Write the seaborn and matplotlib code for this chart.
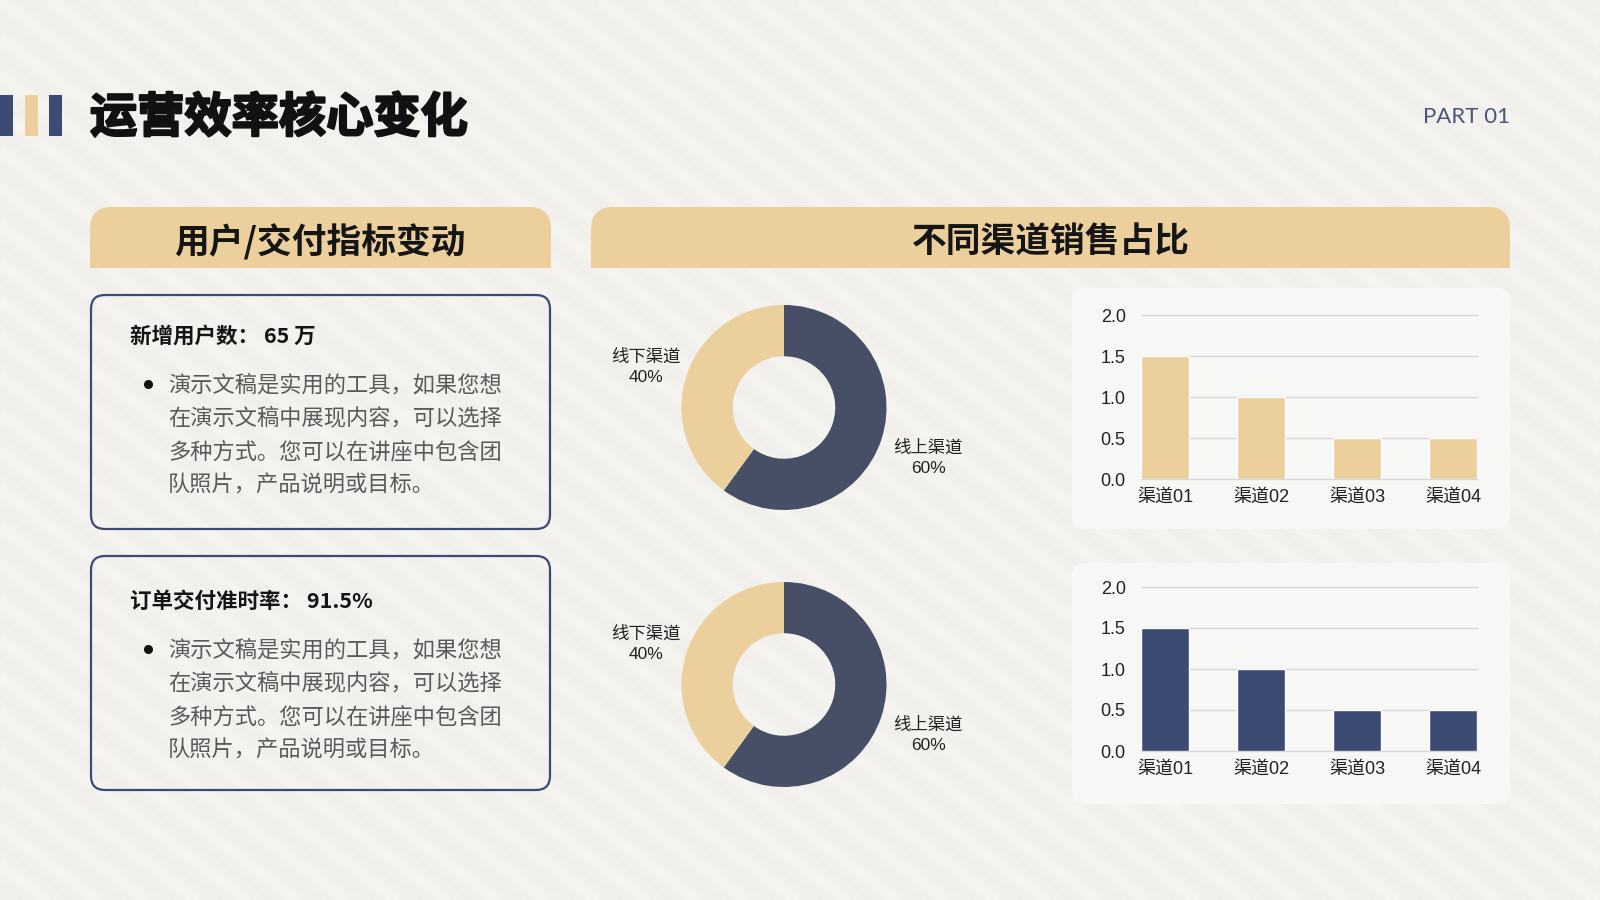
import matplotlib
matplotlib.use('Agg')
import matplotlib.pyplot as plt
import matplotlib.patheffects as pe
from matplotlib.patches import FancyBboxPatch, Rectangle
import seaborn as sns

# ---------------- data ----------------
categories = ['渠道01', '渠道02', '渠道03', '渠道04']
sales_top = [1.5, 1.0, 0.5, 0.5]
sales_bottom = [1.5, 1.0, 0.5, 0.5]
y_ticks = [0.0, 0.5, 1.0, 1.5, 2.0]
channel_labels = ['线上渠道', '线下渠道']
channel_share_top = [60, 40]
channel_share_bottom = [60, 40]

title_text = '运营效率核心变化'
part_label = 'PART 01'
left_header = '用户/交付指标变动'
right_header = '不同渠道销售占比'
metric_titles = ['新增用户数： 65 万', '订单交付准时率： 91.5%']
body_lines = ['演示文稿是实用的工具，如果您想',
              '在演示文稿中展现内容，可以选择',
              '多种方式。您可以在讲座中包含团',
              '队照片，产品说明或目标。']

# ---------------- style ----------------
sns.set_theme(style='white')
CJK = ['Noto Sans CJK SC', 'DejaVu Sans']
LAT = ['Liberation Sans', 'Noto Sans CJK SC']
plt.rcParams['font.family'] = CJK

NAVY = '#3d4a73'
NAVY_D = '#474f66'
BEIGE = '#ebcf9d'
BG = '#f1f0ec'
PANEL = '#f7f7f5'

W, H = 1600, 900
fig = plt.figure(figsize=(16, 9), dpi=100, facecolor=BG)

bg = fig.add_axes([0, 0, 1, 1])
bg.set_xlim(0, W)
bg.set_ylim(H, 0)
bg.axis('off')

# subtle diagonal stripes
for x0 in range(-1300, 1700, 50):
    bg.plot([x0, x0 + 1250], [0, 940], color='white', lw=9, alpha=0.22,
            zorder=0, solid_capstyle='butt')
    bg.plot([x0 + 25, x0 + 25 + 1250], [0, 940], color='#e6e4de', lw=1.0,
            alpha=0.18, zorder=0)

# left decorative bars
for x0, c in [(0, NAVY), (25, BEIGE), (49, NAVY)]:
    bg.add_patch(Rectangle((x0, 95), 12.5, 41, fc=c, ec='none', zorder=2))

bg.text(90, 118, title_text, fontsize=34, weight='black', color='#111111',
        ha='left', va='center', zorder=3,
        path_effects=[pe.withStroke(linewidth=1.6, foreground='#111111')])
bg.text(1510, 117, part_label, fontsize=16, color='#4a5578', ha='right',
        va='center', family=['Lato', 'DejaVu Sans'], zorder=3)

# header tabs
def tab(x, w, text, cx):
    bg.add_patch(FancyBboxPatch((x, 207), w, 61,
                                boxstyle='round,pad=0,rounding_size=22',
                                fc=BEIGE, ec='none', zorder=2))
    bg.add_patch(Rectangle((x, 240), w, 28, fc=BEIGE, ec='none', zorder=2))
    bg.text(cx, 242, text, fontsize=25, weight='bold', color='#151515',
            ha='center', va='center', zorder=3)

tab(90, 461, left_header, 320)
tab(591, 919, right_header, 1051)

# metric boxes
for top, title, toff in zip([295, 556], metric_titles, [41, 45]):
    bg.add_patch(FancyBboxPatch((91, top), 459, 234,
                                boxstyle='round,pad=0,rounding_size=14',
                                fc='none', ec=NAVY, lw=1.6, zorder=2))
    bg.text(130, top + toff, title, fontsize=15.5, weight='bold',
            color='#151515', ha='left', va='center', zorder=3)
    y0 = top + toff + 49
    bg.plot([148], [y0 - 1], 'o', ms=5.5, color='#111111', zorder=3)
    for k, line in enumerate(body_lines):
        bg.text(168, y0 + k * 33.3, line, fontsize=16, weight='light',
                color='#5a5a5a', ha='left', va='center', zorder=3)

# bar panels
for top in [288, 563]:
    bg.add_patch(FancyBboxPatch((1072, top), 438, 241,
                                boxstyle='round,pad=0,rounding_size=12',
                                fc=PANEL, ec='none', zorder=1))

# ---------------- donuts ----------------
def donut(cy, values):
    cx, r, half = 784, 102.5, 115
    ax = fig.add_axes([(cx - half) / W, 1 - (cy + half) / H,
                       2 * half / W, 2 * half / H])
    ax.pie(values, colors=[NAVY_D, BEIGE], startangle=90, counterclock=False,
           radius=r / half,
           wedgeprops=dict(width=0.5 * r / half, edgecolor='none'))
    ax.set_xlim(-1, 1)
    ax.set_ylim(-1, 1)
    ax.axis('off')
    bg.text(646, cy - 51, channel_labels[1], fontsize=12.5, color='#222222',
            ha='center', va='center', zorder=3)
    bg.text(646, cy - 30, f'{values[1]}%', fontsize=12.5, color='#222222',
            ha='center', va='center', family=LAT, zorder=3)
    bg.text(928, cy + 40, channel_labels[0], fontsize=12.5, color='#222222',
            ha='center', va='center', zorder=3)
    bg.text(928, cy + 61, f'{values[0]}%', fontsize=12.5, color='#222222',
            ha='center', va='center', family=LAT, zorder=3)

donut(407.5, channel_share_top)
donut(684.5, channel_share_bottom)

# ---------------- bars ----------------
def bars(top, bottom, values, color):
    ax = fig.add_axes([1141 / W, 1 - bottom / H, 336 / W, (bottom - top) / H])
    ax.patch.set_alpha(0)
    sns.barplot(x=categories, y=values, color=color, width=0.5,
                saturation=1, ax=ax, zorder=2)
    ax.set_xlim(-0.25, 3.25)
    ax.set_ylim(0, 2.0)
    ax.set_yticks(y_ticks)
    ax.set_yticklabels([f'{t:.1f}' for t in y_ticks])
    ax.yaxis.grid(True, color='#d7d7d7', lw=1)
    for gl in ax.yaxis.get_gridlines():
        gl.set_clip_on(False)
    ax.set_axisbelow(True)
    for s in ax.spines.values():
        s.set_visible(False)
    ax.tick_params(axis='y', length=0, pad=11, labelsize=13,
                   labelcolor='#222222')
    ax.tick_params(axis='x', length=0, pad=7, labelsize=13,
                   labelcolor='#222222')
    for lab in ax.get_xticklabels() + ax.get_yticklabels():
        lab.set_family(LAT)
    ax.set_xlabel('')
    ax.set_ylabel('')

bars(315, 479, sales_top, BEIGE)
bars(587, 751, sales_bottom, NAVY)

fig.savefig('out.png', dpi=100, facecolor=BG)
